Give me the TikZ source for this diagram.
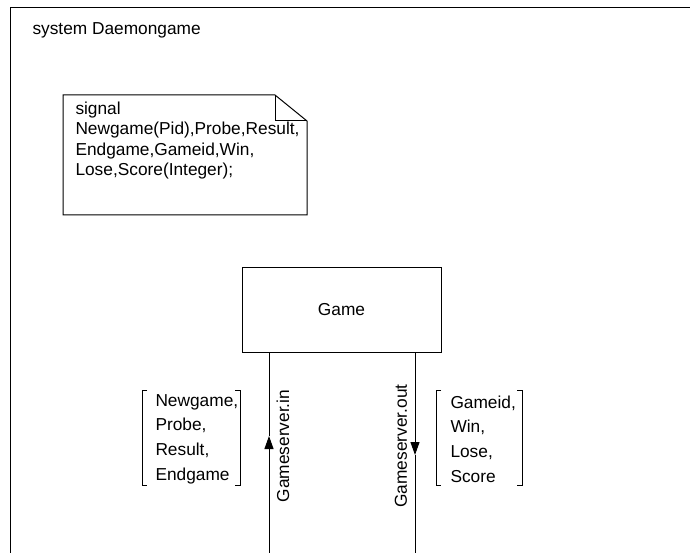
\documentclass[tikz,border=0pt]{standalone}
\usepackage{fontspec}
\setmainfont{Liberation Sans}
\usetikzlibrary{positioning,arrows.meta,calc}

\tikzset{
  sigtext/.style={inner sep=0pt, align=left, font=\fontsize{17.3}{20.5}\selectfont},
  sigitems/.style={inner sep=0pt, align=left, font=\fontsize{17.3}{24.7}\selectfont},
  chanlabel/.style={rotate=90, inner sep=0pt},
  blockbox/.style={draw, minimum width=199pt, minimum height=85pt},
  chanarrow/.style={-{Triangle[length=13pt,width=9pt]}}
}

\begin{document}
\begin{tikzpicture}[x=1pt, y=-1pt, line width=1pt, font=\fontsize{17.3}{20.5}\selectfont]
\useasboundingbox (0,0) rectangle (690,553);
% system frame, open at right and bottom
\draw (690,8) -- (10,8) -- (10,553);
\node[anchor=west, inner sep=0pt] (sysname) at (32,30) {system Daemongame};
% signal declaration
\draw (63,95) -- (275,95) -- (307,121) -- (307,215) -- (63,215) -- cycle;
\draw (275,95) -- (275,121) -- (307,121);
\node[sigtext, anchor=north west] (decl) at (75,101)
  {signal\\Newgame(Pid),Probe,Result,\\Endgame,Gameid,Win,\\Lose,Score(Integer);};
% block
\node[blockbox] (game) at (341.5,309.5) {Game};
% channels
\coordinate (inend) at (269,553);
\coordinate (inmid) at (269,436);
\coordinate (outend) at (415,553);
\coordinate (outmid) at (415,455);
\draw[chanarrow] (inend) -- (inmid);
\draw (inmid) -- (game.south -| inmid);
\draw[chanarrow] (game.south -| outmid) -- (outmid);
\draw (outmid) -- (outend);
\node[chanlabel] (inlabel) at (283,446) {Gameserver.in};
\node[chanlabel] (outlabel) at (401,446) {Gameserver.out};
% signal lists
\node[sigitems, anchor=west] (inlist) at (155,439) {Newgame,\\Probe,\\Result,\\Endgame};
\draw (147,390) -- (142,390) -- (142,485) -- (147,485);
\draw (235,390) -- (240,390) -- (240,485) -- (235,485);
\node[sigitems, anchor=west] (outlist) at (450,439) {Gameid,\\Win,\\Lose,\\Score};
\draw (441,390) -- (436,390) -- (436,485) -- (441,485);
\draw (517,390) -- (522,390) -- (522,485) -- (517,485);
\end{tikzpicture}
\end{document}
